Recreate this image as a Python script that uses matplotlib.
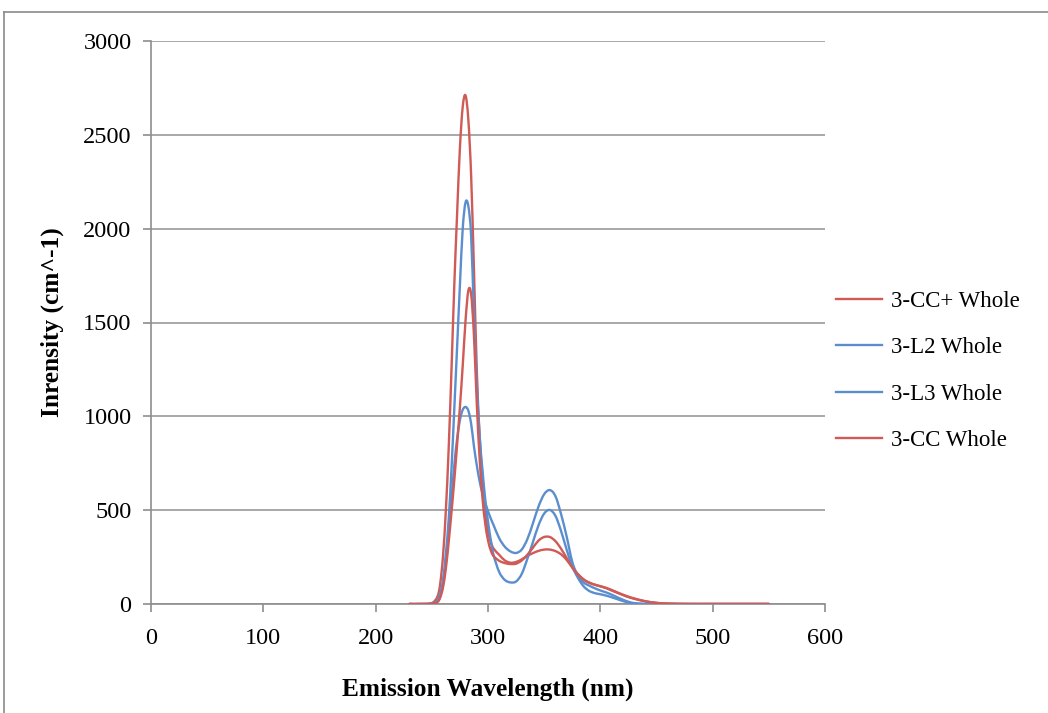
import matplotlib
matplotlib.use("Agg")
import matplotlib.pyplot as plt
from matplotlib.path import Path
from matplotlib.patches import PathPatch
from matplotlib.lines import Line2D
import numpy as np

# Emission wavelength grid (nm)
wavelength = [230, 240, 250, 255, 257.5, 260, 262.5, 265, 267.5, 270, 272.5, 275,
              277.5, 280, 282.5, 285, 287.5, 290, 292.5, 295, 297.5, 300, 302.5,
              305, 310, 315, 320, 325, 330, 335, 340, 345, 350, 355, 360, 365, 370,
              375, 380, 385, 390, 395, 400, 405, 410, 415, 420, 425, 430, 440, 450,
              460, 480, 500, 525, 550]

# Intensity (cm^-1) for each sample
cc_plus_whole = [0, 0, 5, 40, 110, 260, 500, 830, 1250, 1700, 2080, 2430,
                 2650, 2710, 2580, 2280, 1780, 1250, 900, 680, 500, 390, 330,
                 295, 262, 232, 220, 224, 238, 256, 271, 283, 290, 290, 282, 265, 235,
                 195, 160, 132, 114, 103, 94, 85, 72, 60, 48, 37, 28, 14, 6,
                 2, 0, 0, 0, 0]
l2_whole = [0, 0, 2, 20, 55, 130, 270, 450, 720, 1040, 1370, 1700,
            2000, 2140, 2120, 1960, 1540, 1180, 900, 720, 560, 440, 340,
            260, 170, 128, 115, 120, 160, 240, 330, 420, 482, 501, 470, 390, 290,
            200, 140, 95, 70, 58, 52, 45, 36, 26, 16, 8, 3, 0, 0,
            0, 0, 0, 0, 0]
l3_whole = [0, 0, 2, 15, 45, 110, 220, 380, 560, 740, 880, 980,
            1035, 1050, 1030, 960, 840, 740, 655, 590, 540, 495, 455,
            420, 350, 305, 280, 272, 290, 345, 430, 520, 585, 607, 575, 480, 360,
            225, 150, 115, 98, 84, 72, 62, 50, 36, 23, 12, 5, 0, 0,
            0, 0, 0, 0, 0]
cc_whole = [0, 0, 2, 10, 35, 90, 190, 330, 490, 660, 850, 1050,
            1270, 1510, 1670, 1650, 1430, 1070, 780, 570, 430, 340, 285,
            255, 230, 218, 213, 215, 232, 262, 300, 338, 357, 357, 335, 295, 245,
            195, 158, 130, 114, 103, 95, 86, 75, 62, 50, 39, 30, 15, 6,
            2, 0, 0, 0, 0]

series_names = ["3-CC+ Whole", "3-L2 Whole", "3-L3 Whole", "3-CC Whole"]
series_values = [cc_plus_whole, l2_whole, l3_whole, cc_whole]

x_ticks = [0, 100, 200, 300, 400, 500, 600]
y_ticks = [0, 500, 1000, 1500, 2000, 2500, 3000]

RED = "#CF5A56"
BLUE = "#5A8ECF"
series_colors = [RED, BLUE, BLUE, RED]

plt.rcParams["font.family"] = ["Liberation Serif", "DejaVu Serif"]


def smooth_path(xs, ys):
    """Catmull-Rom style cubic Bezier through the samples (smoothed line)."""
    pts = np.column_stack([xs, ys]).astype(float)
    n = len(pts)
    verts = [pts[0]]
    codes = [Path.MOVETO]
    for i in range(n - 1):
        p0 = pts[i - 1] if i > 0 else pts[i]
        p1 = pts[i]
        p2 = pts[i + 1]
        p3 = pts[i + 2] if i + 2 < n else pts[i + 1]
        c1 = p1 + (p2 - p0) / 6.0
        c2 = p2 - (p3 - p1) / 6.0
        verts.extend([c1, c2, p2])
        codes.extend([Path.CURVE4] * 3)
    return Path(verts, codes)


W, H = 1048, 713
fig = plt.figure(figsize=(W / 100, H / 100), dpi=100)
ax = fig.add_axes([151 / W, (H - 604) / H, 674 / W, 563 / H])

grid_color = "#A8A8A8"
axis_color = "#8E8E8E"

handles = []
for name, vals, col in zip(series_names, series_values, series_colors):
    patch = PathPatch(smooth_path(wavelength, vals), facecolor="none",
                      edgecolor=col, lw=1.7, capstyle="round", joinstyle="round",
                      zorder=3)
    ax.add_patch(patch)
    handles.append(Line2D([], [], color=col, lw=1.7))

ax.set_xlim(0, 600)
ax.set_ylim(0, 3000)
ax.set_xticks(x_ticks)
ax.set_yticks(y_ticks)
ax.set_xticklabels([str(v) for v in x_ticks])
ax.set_yticklabels([str(v) for v in y_ticks])

ax.yaxis.grid(True, color=grid_color, lw=1.4)
ax.set_axisbelow(True)
for side in ("top", "right"):
    ax.spines[side].set_visible(False)
for side in ("left", "bottom"):
    ax.spines[side].set_color(axis_color)
    ax.spines[side].set_linewidth(1.2)
ax.tick_params(axis="both", direction="out", length=6, width=1.2,
               color=axis_color, labelsize=17.5)
ax.tick_params(axis="y", pad=8)
ax.tick_params(axis="x", pad=11)

ax.set_xlabel("Emission Wavelength (nm)", fontsize=18.3, fontweight="bold",
              labelpad=21)
ax.set_ylabel("Inrensity (cm^-1)", fontsize=18.3, fontweight="bold", labelpad=14)

leg = fig.legend(handles, series_names, loc="center left",
                 bbox_to_anchor=(836 / W, 1 - 371 / H), frameon=False,
                 fontsize=16.5, handlelength=2.0, handletextpad=0.4,
                 labelspacing=1.1, borderpad=0, borderaxespad=0)

# Outer chart-area border (top and left edges)
fig.add_artist(Line2D([4 / W, 1.0], [1 - 12 / H, 1 - 12 / H],
                      color="#8A8A8A", lw=1.2, transform=fig.transFigure))
fig.add_artist(Line2D([4 / W, 4 / W], [0.0, 1 - 12 / H],
                      color="#8A8A8A", lw=1.2, transform=fig.transFigure))

fig.savefig("out.png", dpi=100, facecolor="white")
